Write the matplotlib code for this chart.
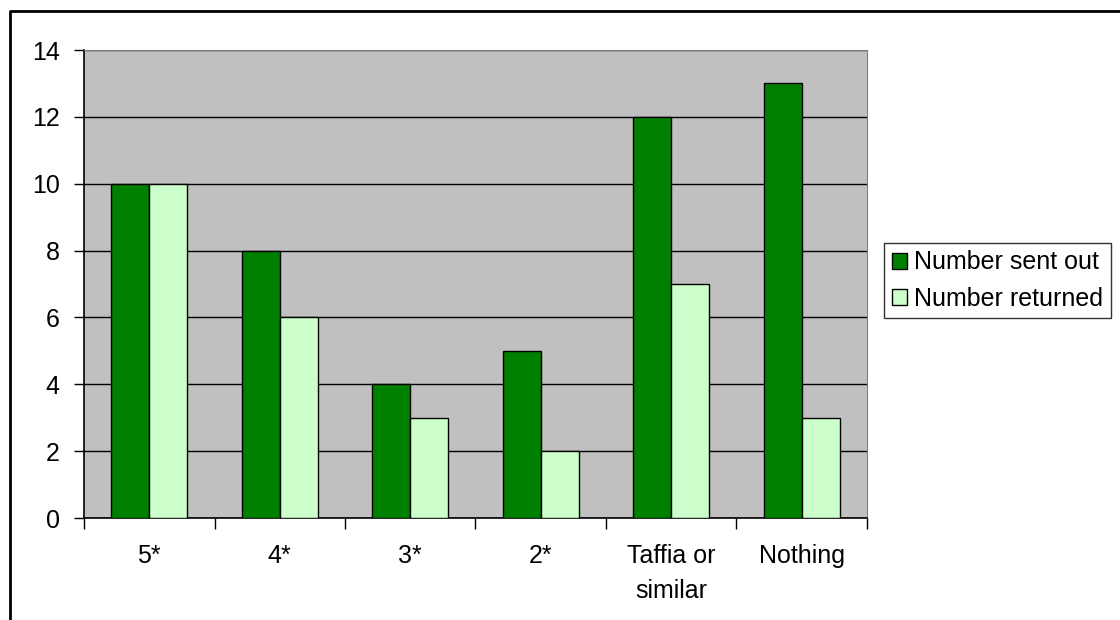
import numpy as np
import matplotlib.pyplot as plt
from matplotlib.lines import Line2D

categories = ['5*', '4*', '3*', '2*', 'Taffia or\nsimilar', 'Nothing']
sent_out = [10, 8, 4, 5, 12, 13]
returned = [10, 6, 3, 2, 7, 3]
series_names = ['Number sent out', 'Number returned']

plt.rcParams['font.family'] = ['Liberation Sans', 'DejaVu Sans']

fig = plt.figure(figsize=(11.2, 6.2), dpi=100)
ax = fig.add_axes([84 / 1120, 1 - 518 / 620, (867 - 84) / 1120, (518 - 50) / 620])
ax.set_facecolor('#C0C0C0')

x = np.arange(len(categories))
w = 0.29
ax.bar(x - w / 2, sent_out, w, color='#008000', edgecolor='black', linewidth=1,
       label=series_names[0], zorder=3)
ax.bar(x + w / 2, returned, w, color='#CCFFCC', edgecolor='black', linewidth=1,
       label=series_names[1], zorder=3)

ax.set_xlim(-0.5, len(categories) - 0.5)
ax.set_ylim(0, 14)
ax.set_yticks(range(0, 15, 2))
ax.yaxis.grid(True, color='black', linewidth=1, zorder=1)
ax.set_axisbelow(True)

# category labels sit between the boundary ticks
ax.set_xticks(np.arange(-0.5, len(categories), 1))
ax.set_xticklabels([])
ax.set_xticks(x, minor=True)
ax.set_xticklabels(categories, minor=True, linespacing=1.55)
ax.tick_params(axis='x', which='major', direction='out', length=8, width=1)
ax.tick_params(axis='x', which='minor', length=0, pad=19, labelsize=18)
ax.tick_params(axis='y', direction='out', length=7, width=1, pad=10.5, labelsize=18)

for s in ['top', 'right']:
    ax.spines[s].set_color('#808080')
for s in ['left', 'bottom']:
    ax.spines[s].set_color('black')
    ax.spines[s].set_linewidth(1.2)

leg = fig.legend(loc='upper left', bbox_to_anchor=(884 / 1120, 1 - 243 / 620),
                 fontsize=18, frameon=True, fancybox=False, edgecolor='black',
                 handlelength=0.6, handleheight=0.6, handletextpad=0.3,
                 borderpad=0.3, labelspacing=0.5, borderaxespad=0)
leg.get_frame().set_linewidth(1)

# chart area border (only top and left visible)
fig.add_artist(Line2D([10 / 1120, 10 / 1120, 1.0], [0.0, 1 - 11 / 620, 1 - 11 / 620],
                      transform=fig.transFigure, color='black', linewidth=2))

fig.savefig('out.png', dpi=100)
